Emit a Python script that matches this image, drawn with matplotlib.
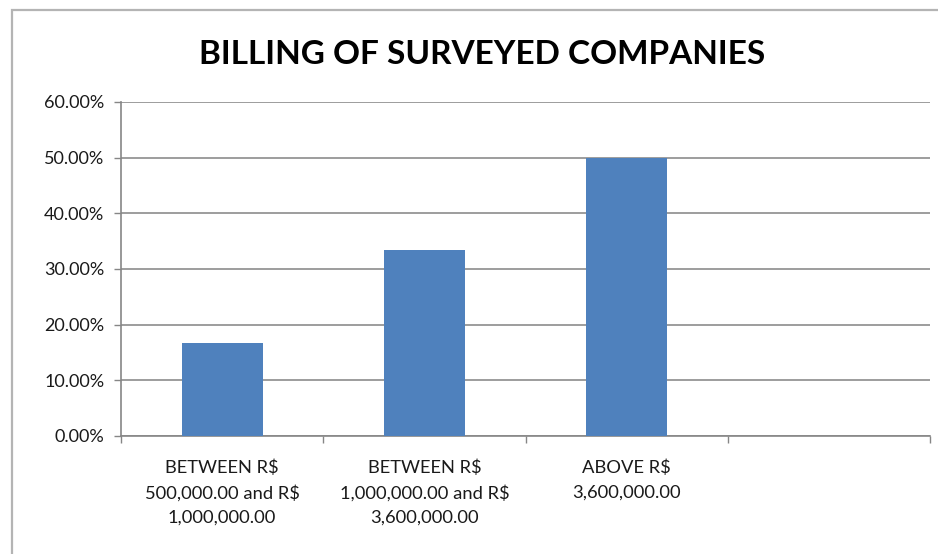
import matplotlib
import matplotlib.pyplot as plt
from matplotlib.patches import Rectangle
from matplotlib.ticker import FuncFormatter, MultipleLocator

matplotlib.use("Agg")

plt.rcParams["font.family"] = ["Lato", "DejaVu Sans"]

# data
categories = [
    "BETWEEN R$\n500,000.00 and R$\n1,000,000.00",
    "BETWEEN R$\n1,000,000.00 and R$\n3,600,000.00",
    "ABOVE R$\n3,600,000.00",
    "",
]
shares = [16.67, 33.33, 50.0]  # percent, last category has no bar
title = "BILLING OF SURVEYED COMPANIES"

bar_color = "#4f81bd"
grid_color = "#8c8c8c"
axis_color = "#868686"

fig = plt.figure(figsize=(9.38, 5.54), dpi=100)
ax = fig.add_axes([0.129, 0.213, 0.8625, 0.603])

# outer chart frame (Excel style), open to the right and bottom
fig.patches.append(
    Rectangle((0.0128, -0.05), 1.1, 1.032, transform=fig.transFigure,
              fill=False, edgecolor="#b4b4b4", linewidth=1.6)
)

x = range(len(shares))
ax.bar(x, shares, width=0.4, color=bar_color, zorder=3)

ax.set_xlim(-0.5, len(categories) - 0.5)
ax.set_ylim(0, 60)
ax.yaxis.set_major_locator(MultipleLocator(10))
ax.yaxis.set_major_formatter(FuncFormatter(lambda v, p: f"{v:.2f}%"))
ax.grid(axis="y", color=grid_color, linewidth=1.2, zorder=0)

# labels at category centres, tick marks at category boundaries
ax.set_xticks(range(len(categories)))
ax.set_xticklabels(categories, fontsize=13.2, linespacing=1.62, color="#1a1a1a")
ax.set_xticks([i - 0.5 for i in range(len(categories) + 1)], minor=True)
ax.tick_params(axis="x", which="major", length=0, pad=17)
ax.tick_params(axis="x", which="minor", length=5, width=1, color=axis_color)
ax.tick_params(axis="y", length=5, width=1, color=axis_color, pad=7,
               labelsize=13, labelcolor="#1a1a1a")

for side in ["top", "right"]:
    ax.spines[side].set_visible(False)
for side in ["left", "bottom"]:
    ax.spines[side].set_color(axis_color)
    ax.spines[side].set_linewidth(1.2)

fig.text(0.514, 0.902, title, ha="center", va="center", fontsize=24,
         fontweight="bold", color="black")

fig.savefig("out.png", dpi=100)
